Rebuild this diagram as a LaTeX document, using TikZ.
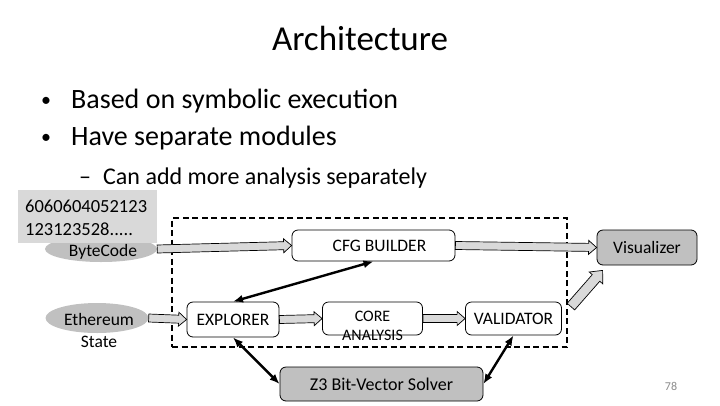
\documentclass[tikz,border=0pt]{standalone}
\usepackage{fontspec}
\setmainfont{Carlito}
\usetikzlibrary{shapes.geometric,arrows.meta,calc}
\definecolor{boxgray}{HTML}{C0C0C0}
\definecolor{codegray}{HTML}{D9D9D9}
\definecolor{arrowgray}{HTML}{D9D9D9}
\definecolor{numgray}{HTML}{8C8C8C}
\newcommand\fsz[2]{\fontsize{#1}{#2}\selectfont}
% block arrow: #1 start, #2 end, #3 shaft half width, #4 head half width, #5 head length
\newcommand\blockarrow[5]{%
 \draw[barrow] let \p1=(#1), \p2=(#2), \n1={atan2(\y2-\y1,\x2-\x1)}, \n2={veclen(\x2-\x1,\y2-\y1)} in
 ({\x1-(#3)*sin(\n1)},{\y1+(#3)*cos(\n1)})
 -- ({\x1+(\n2-#5)*cos(\n1)-(#3)*sin(\n1)},{\y1+(\n2-#5)*sin(\n1)+(#3)*cos(\n1)})
 -- ({\x1+(\n2-#5)*cos(\n1)-(#4)*sin(\n1)},{\y1+(\n2-#5)*sin(\n1)+(#4)*cos(\n1)})
 -- (\p2)
 -- ({\x1+(\n2-#5)*cos(\n1)+(#4)*sin(\n1)},{\y1+(\n2-#5)*sin(\n1)-(#4)*cos(\n1)})
 -- ({\x1+(\n2-#5)*cos(\n1)+(#3)*sin(\n1)},{\y1+(\n2-#5)*sin(\n1)-(#3)*cos(\n1)})
 -- ({\x1+(#3)*sin(\n1)},{\y1-(#3)*cos(\n1)}) -- cycle;}
\tikzset{
 barrow/.style={fill=arrowgray, draw=black, line width=0.7pt, line join=miter},
 module/.style={draw=black, line width=0.8pt, rounded corners=6pt, fill=white, inner sep=0pt, font=\fsz{17.5}{20}},
 graymodule/.style={module, fill=boxgray},
 oval/.style={ellipse, fill=boxgray, draw=none, inner sep=0pt},
 biarrow/.style={line width=2.4pt, {Latex[length=10pt,width=8pt]}-{Latex[length=10pt,width=8pt]}},
 frame/.style={draw=black, line width=2pt, dash pattern=on 6pt off 3.5pt, inner sep=0pt},
 lbl/.style={inner sep=0pt, align=center},
 txt/.style={inner sep=0pt}
}
\begin{document}
\begin{tikzpicture}[x=1pt,y=-1pt]
\fill[white] (0,0) rectangle (720,405);
\useasboundingbox (0,0) rectangle (720,405);

% title and bullets
\node[txt, anchor=base, font=\fsz{35}{40}] (title) at (360,50) {Architecture};
\node[txt, anchor=base, font=\fsz{20}{24}] (b1) at (46,106) {•};
\node[txt, anchor=base west, font=\fsz{28}{32}] (t1) at (71,108) {Based on symbolic execution};
\node[txt, anchor=base, font=\fsz{20}{24}] (b2) at (46,143) {•};
\node[txt, anchor=base west, font=\fsz{28}{32}] (t2) at (71,145) {Have separate modules};
\node[txt, anchor=base west, font=\fsz{24}{28}] (d3) at (79,184) {–};
\node[txt, anchor=base west, font=\fsz{24}{28}] (t3) at (103,184) {Can add more analysis separately};

% frame
\node[frame, minimum width=395pt, minimum height=129pt] (box) at (369.5,282.5) {};

% inputs
\node[oval, minimum width=112pt, minimum height=26pt] (bc) at (101,249) {};
\node[txt, anchor=base, font=\fsz{17.5}{20}] (bcl) at (103,256) {ByteCode};
\node[fill=codegray, inner sep=0pt, minimum width=139pt, minimum height=53pt, anchor=north west] (code) at (18,190) {};
\node[txt, anchor=base west, align=left, font=\fsz{18.5}{23}] (codet) at (25,235) {6060604052123\\123123528.....};
\node[oval, minimum width=103pt, minimum height=30pt] (eth) at (97,318) {};
\node[lbl, font=\fsz{17.5}{22}] (ethl) at (99,330) {Ethereum\\State};

% modules
\node[module, minimum width=163pt, minimum height=31pt] (cfg) at (373.5,245.5) {\hspace*{12pt}CFG BUILDER};
\node[graymodule, minimum width=100pt, minimum height=35pt] (vis) at (647,247.5) {Visualizer};
\node[module, minimum width=92pt, minimum height=35pt] (exp) at (233,319.5) {EXPLORER};
\node[module, minimum width=100pt, minimum height=33pt] (core) at (372.5,318.5) {};
\node[lbl, font=\fsz{16}{19}] (corel) at (372.5,326) {CORE\\ANALYSIS};
\node[module, minimum width=96pt, minimum height=33pt] (val) at (513.5,318.5) {VALIDATOR};
\node[graymodule, minimum width=203pt, minimum height=34pt, font=\fsz{18}{20}] (z3) at (381.5,384) {Z3 Bit-Vector Solver};

% block arrows
\blockarrow{bc.east}{cfg.west}{4}{7}{8}
\blockarrow{cfg.east}{vis.west}{4}{7}{8}
\blockarrow{eth.east}{exp.west}{4}{7}{8}
\blockarrow{exp.east}{core.west}{4}{7}{8}
\blockarrow{core.east}{val.west}{4}{7}{8}
\blockarrow{$(val.north east)+(9,5)$}{$(vis.south west)+(6,5)$}{5}{9}{10}

% black double arrows
\draw[biarrow] (exp.north) -- (cfg.south);
\draw[biarrow] (exp.south) -- (z3.west);
\draw[biarrow] (val.south) -- (z3.east);

% page number
\node[txt, text=numgray, font=\fsz{12}{14}] (page) at (671,386) {78};
\end{tikzpicture}
\end{document}
